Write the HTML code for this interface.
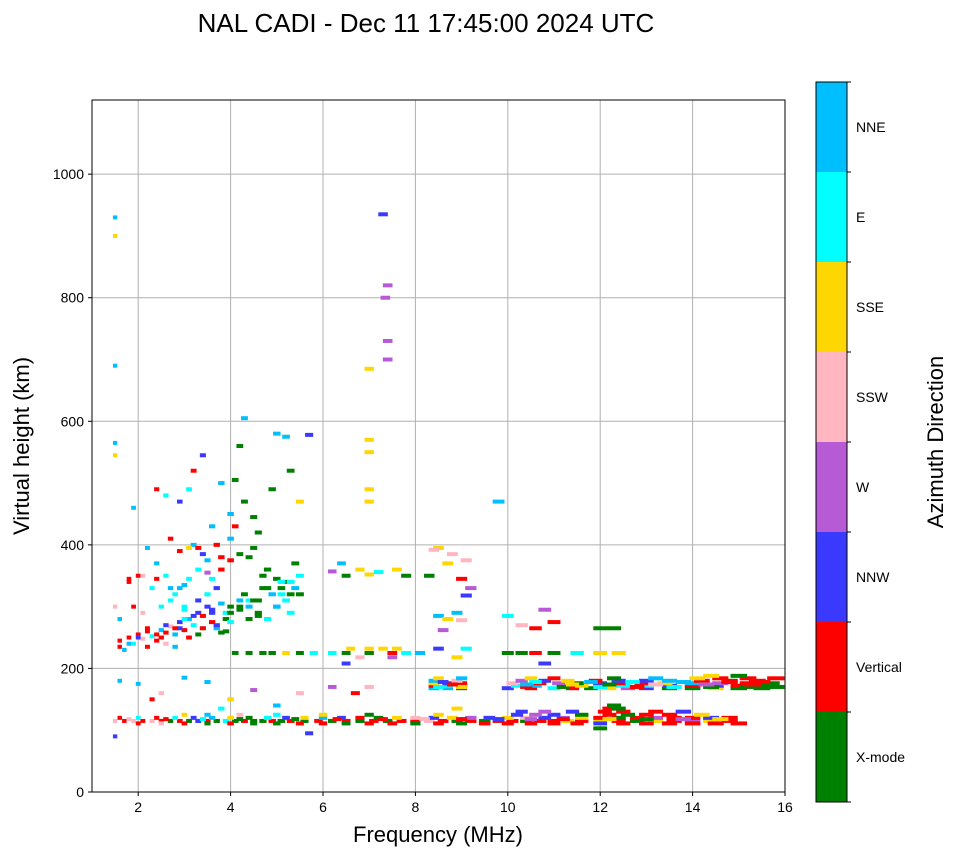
<!DOCTYPE html>
<html><head><meta charset="utf-8"><style>
body{margin:0;background:#fff;}
svg text{font-family:"Liberation Sans",sans-serif;}
</style></head><body>
<svg id="chart" width="958" height="857" xmlns="http://www.w3.org/2000/svg">
<text x="426" y="32" font-size="26" text-anchor="middle">NAL CADI - Dec 11 17:45:00 2024 UTC</text>
<g id="grid"></g>
<g id="marks"></g>
<rect x="92" y="100" width="693" height="692" fill="none" stroke="#000" stroke-width="1"/>
<g id="axes"></g>
<text x="438" y="842" font-size="22" text-anchor="middle">Frequency (MHz)</text>
<text transform="translate(29,446) rotate(-90)" font-size="22" text-anchor="middle">Virtual height (km)</text>
<g id="cbar"></g>
<text transform="translate(943,442) rotate(-90)" font-size="22" text-anchor="middle">Azimuth Direction</text>
</svg>
<script>
const dirLabels=["X-mode","Vertical","NNW","W","SSW","SSE","E","NNE"];
const dirColors=["#008000","#ff0000","#3a3aff","#b65ad6","#ffb6c1","#ffd700","#00ffff","#00bfff"];
const xTicks=[2,4,6,8,10,12,14,16];
const yTicks=[0,200,400,600,800,1000];
const freqs=[
1.5,1.7,1.9,2.1,2.3,2.5,2.7,2.9,3.1,3.3,3.5,3.7,3.9,4.1,4.3,4.5,4.7,4.9,5.1,5.3,5.6,5.9,6.2,6.5,6.8,7.1,7.4,7.7,8.0,8.3,8.6,8.9,9.2,9.5,9.8,10.1,10.4,10.7,11.0,11.3,11.6,12.0,12.4,12.8,13.2,13.6,14.0,14.4,14.8,
1.6,2.0,2.4,2.8,3.2,3.6,4.0,4.4,4.8,5.2,5.6,6.0,6.4,6.8,7.2,7.6,8.0,8.4,8.8,9.2,9.6,10.0,10.4,10.8,11.2,11.6,12.0,12.4,12.8,13.2,13.6,14.0,14.4,14.8,
3.0,3.5,4.2,5.0,6.0,7.0,8.5,10.2,10.6,11.0,11.6,12.2,12.6,13.0,13.5,14.2,
10.3,10.8,11.4,12.1,12.5,13.2,13.8,12.2,12.4,8.9,12.3,
8.4,8.7,9.0,10.0,10.5,11.0,11.4,11.8,12.2,12.6,13.0,13.5,14.0,14.5,15.0,15.5,
8.4,8.7,9.0,10.2,10.6,11.2,11.6,12.0,12.5,13.0,13.5,14.0,14.5,15.0,15.6,
8.4,8.7,9.0,10.1,10.7,11.1,11.5,12.0,12.4,12.9,13.4,14.0,14.6,15.2,15.7,
8.4,8.9,10.3,10.8,11.3,11.9,12.4,13.0,13.5,14.2,14.8,15.4,
8.5,9.0,10.5,11.0,12.3,13.2,14.1,14.6,15.2,15.8,14.4,15.0,
4.1,4.4,4.7,4.9,5.2,5.5,5.8,6.2,6.5,7.0,7.5,7.8,8.1,10.0,10.3,10.6,11.0,11.5,12.0,12.4,
6.6,7.0,7.3,7.6,8.5,9.1,6.8,7.5,8.9,6.5,10.8,
10.0,10.3,10.6,10.8,11.0,12.0,12.3,8.5,8.7,8.9,9.0,8.6,
8.3,8.5,8.7,8.8,9.0,9.1,9.2,8.4,9.1,
6.4,6.5,6.8,7.0,7.2,7.6,7.8,6.2,
7.0,7.0,7.0,7.0,7.0,7.4,7.4,7.4,7.3,7.35,
1.6,1.7,1.8,1.9,2.0,2.1,2.2,2.3,2.4,2.5,2.6,2.7,2.8,2.9,3.0,3.1,3.2,3.3,3.4,3.5,3.6,3.7,3.8,3.9,4.0,4.2,4.4,4.6,4.8,5.0,5.2,5.4,5.5,
2.2,2.6,3.0,3.3,3.5,3.7,3.0,2.8,2.6,2.4,2.2,1.8,2.0,1.5,1.6,2.9,3.2,3.4,3.6,3.8,4.0,4.2,4.5,4.8,5.0,5.2,5.4,4.6,4.3,4.1,4.2,4.3,4.0,3.6,3.2,3.1,2.9,2.6,2.4,1.9,1.5,1.5,1.5,1.5,1.5,3.4,3.8,5.3,5.5,4.9,5.0,5.2,5.7,3.8,4.1,4.5,3.3,2.7,2.9,3.3,3.9,4.3,4.7,5.1,5.3,4.4,3.5,3.1,
1.6,2.0,2.5,3.0,3.5,4.0,4.5,5.0,5.5,6.2,6.7,7.0,2.3,3.8,9.8,1.5,12.0,5.7,
1.8,2.1,2.4,2.7,3.0,3.3,3.6,3.9,4.2,4.5,4.8,5.1,2.5,2.8,3.1,3.4,3.7,4.0,4.6,5.0,5.3,
2.0,2.5,3.0,3.5,4.0,4.5,5.0,5.5,6.0,6.5,7.0,7.5,8.0,8.5,9.0,9.5,10.0,10.5,11.0,11.5,12.0,12.5,13.0,13.5,14.0,14.5,15.0,
1.8,2.6,3.4,4.2,5.4,6.3,7.3,8.2,9.0,9.8,10.5,11.2,12.2,13.0,13.8,14.6,
8.5,9.0,10.4,11.2,12.0,12.8,13.6,14.4,15.2,15.8,
8.6,10.6,11.8,12.7,13.8,14.8,15.5,
8.8,10.4,11.4,12.2,13.2,14.3,15.3,
1.6,1.8,2.0,2.2,2.4,2.6,2.8,3.0,3.2,3.4,3.6,3.8,4.0,4.2,4.4,4.6,4.9,5.1,5.3,5.5,2.3,2.5,2.7,2.9,3.1,3.3,3.5,2.1,1.9,3.7,4.0,4.4,4.7
];
const heights=[
115,115,115,115,115,115,115,115,115,115,115,115,115,115,115,115,115,115,115,115,115,115,115,115,115,115,115,115,115,115,115,115,115,115,115,115,115,115,115,115,115,115,115,115,115,115,115,115,115,
120,120,120,120,120,120,120,120,120,120,120,120,120,120,120,120,120,120,120,120,120,120,120,120,120,120,120,120,120,120,120,120,120,120,
125,125,125,125,125,125,125,125,125,125,125,125,125,125,125,125,
130,130,130,130,130,130,130,135,135,135,140,
168,168,168,168,168,168,168,168,168,168,168,168,168,168,168,168,
172,172,172,172,172,172,172,172,172,172,172,172,172,172,172,
176,176,176,176,176,176,176,176,176,176,176,176,176,176,176,
180,180,180,180,180,180,180,180,180,180,180,180,
184,184,184,184,184,184,184,184,184,184,188,188,
225,225,225,225,225,225,225,225,225,225,225,225,225,225,225,225,225,225,225,225,
232,232,232,232,232,232,218,218,218,208,208,
285,270,265,295,275,265,265,285,280,290,278,262,
350,395,370,385,345,375,330,392,318,
370,350,360,352,356,360,350,357,
470,490,550,570,685,700,730,820,935,800,
245,230,250,240,255,248,260,252,245,262,258,268,255,275,262,280,270,290,285,300,275,265,258,290,300,310,280,290,280,300,310,330,350,
235,240,295,310,320,330,335,320,350,370,395,345,350,300,280,390,400,385,345,360,375,385,395,360,345,340,370,420,470,505,560,605,450,430,520,490,470,480,490,460,565,545,900,930,690,545,500,520,470,490,580,575,578,380,430,445,395,410,265,255,260,320,330,320,290,310,355,395,
180,175,160,185,178,150,165,140,160,170,160,170,150,135,470,90,103,95,
340,350,345,330,300,310,290,280,300,310,330,340,250,235,250,265,270,275,285,300,320,
111,111,111,111,111,111,111,111,111,111,111,111,111,111,111,111,111,111,111,111,111,111,111,111,111,111,111,
118,118,118,118,118,118,118,118,118,118,118,118,118,118,118,118,
170,170,170,170,170,170,170,170,170,170,
178,178,178,178,178,178,178,
174,174,174,174,174,174,174,
235,240,250,265,255,270,265,280,285,265,295,305,290,295,300,310,320,330,340,320,330,300,310,330,345,360,375,290,300,400,410,380,350
];
const dirs=[
4,1,4,1,4,1,0,1,0,2,1,0,6,0,1,0,0,1,0,1,0,1,0,1,0,1,0,1,1,4,1,0,1,0,1,1,0,1,1,5,1,5,1,0,5,1,3,5,1,
1,6,1,6,2,7,5,0,6,2,5,7,2,1,0,5,4,2,5,3,2,5,4,2,3,5,1,0,1,3,1,1,2,1,
5,7,4,6,5,0,5,2,3,2,0,1,0,1,1,5,
2,3,2,1,1,1,2,1,0,5,0,
7,7,0,2,1,6,1,0,5,3,2,0,0,5,0,0,
1,6,7,6,7,6,5,1,6,6,2,1,2,1,0,
5,2,1,4,1,3,0,2,1,1,5,7,3,1,0,
7,4,3,2,5,1,2,2,7,1,0,1,
5,7,5,1,0,7,5,1,1,1,5,0,
0,0,0,0,5,0,6,6,0,0,1,6,7,0,0,1,0,6,5,5,
5,5,5,5,2,6,4,3,5,2,2,
6,4,1,3,1,0,0,7,5,7,4,3,
0,5,5,4,1,4,3,4,2,
7,0,5,5,6,5,0,3,
5,5,5,5,5,3,3,3,2,3,
1,7,1,6,1,4,1,6,1,7,1,4,7,2,1,7,6,2,1,2,1,7,0,6,0,7,0,0,6,7,6,7,6,
1,4,6,6,6,2,7,6,6,7,7,1,1,4,7,1,7,2,6,1,1,0,0,0,0,0,0,0,0,0,0,7,7,7,1,6,2,6,1,7,7,5,5,7,7,2,7,0,5,0,7,7,2,1,1,0,1,1,2,0,0,0,0,6,6,6,3,5,
7,7,4,7,7,5,3,7,4,3,1,4,1,6,7,2,0,2,
1,4,1,7,6,2,2,0,0,0,0,6,1,7,1,6,2,6,0,7,0,
1,4,1,0,1,0,0,1,1,0,1,1,0,1,0,1,1,1,1,1,2,1,1,1,1,1,1,
4,1,6,0,0,1,1,4,1,2,3,1,5,0,3,5,
6,5,1,0,6,1,6,0,0,0,
2,6,7,6,7,1,1,
1,7,5,0,4,3,1,
1,7,2,1,1,2,1,6,2,1,2,7,0,0,7,0,7,0,6,0,6,6,6,7,6,6,7,4,1,1,7,0,0
];
const NS="http://www.w3.org/2000/svg";
const X0=92,X1=785,Y0=792,Y1=100,FMIN=1,FMAX=16,HMAX=1120;
function xs(f){return X0+(f-FMIN)/(FMAX-FMIN)*(X1-X0);}
function ys(h){return Y0-h/HMAX*(Y0-Y1);}
function mk(tag,attrs,parent){const e=document.createElementNS(NS,tag);for(const k in attrs)e.setAttribute(k,attrs[k]);parent.appendChild(e);return e;}
const grid=document.getElementById('grid'),axes=document.getElementById('axes'),marks=document.getElementById('marks'),cbar=document.getElementById('cbar');
xTicks.forEach(t=>{
  const x=xs(t);
  const g=mk('line',{x1:x,x2:x,y1:Y1,y2:Y0,stroke:'#b0b0b0','stroke-width':1},grid);
  
  
  mk('line',{x1:x,x2:x,y1:Y0,y2:Y0+4,stroke:'#000'},axes);
  const tx=mk('text',{x:x,y:Y0+20,'font-size':14,'text-anchor':'middle'},axes);
  tx.textContent=t;
  
  
});
yTicks.forEach(t=>{
  const y=ys(t);
  const g=mk('line',{x1:X0,x2:X1,y1:y,y2:y,stroke:'#b0b0b0','stroke-width':1},grid);
  
  
  mk('line',{x1:X0-4,x2:X0,y1:y,y2:y,stroke:'#000'},axes);
  const tx=mk('text',{x:X0-8,y:y+5,'font-size':14,'text-anchor':'end'},axes);
  tx.textContent=t;
  
  
});
for(let i=0;i<freqs.length;i++){
  const f=freqs[i],h=heights[i],c=dirs[i];
  const w=3+f*0.9;
  const r=mk('rect',{x:xs(f)-w/2,y:ys(h)-2,width:w,height:4,fill:dirColors[c]},marks);
  
  
}
const CB_X=816,CB_W=31,CB_TOP=82,CB_BOT=802,segH=(CB_BOT-CB_TOP)/dirLabels.length;
dirLabels.forEach((lab,i)=>{
  const y=CB_BOT-(i+1)*segH;
  const r=mk('rect',{x:CB_X,y:y,width:CB_W,height:segH,fill:dirColors[i]},cbar);
  
  
  mk('line',{x1:CB_X+CB_W,x2:CB_X+CB_W+4,y1:y,y2:y,stroke:'#000'},cbar);
  const tx=mk('text',{x:CB_X+CB_W+9,y:y+segH/2+5,'font-size':14},cbar);
  tx.textContent=lab;
  
  
});
mk('line',{x1:CB_X+CB_W,x2:CB_X+CB_W+4,y1:CB_BOT,y2:CB_BOT,stroke:'#000'},cbar);
const fr=mk('rect',{x:CB_X,y:CB_TOP,width:CB_W,height:CB_BOT-CB_TOP,fill:'none',stroke:'#000'},cbar);


</script>
</body></html>
